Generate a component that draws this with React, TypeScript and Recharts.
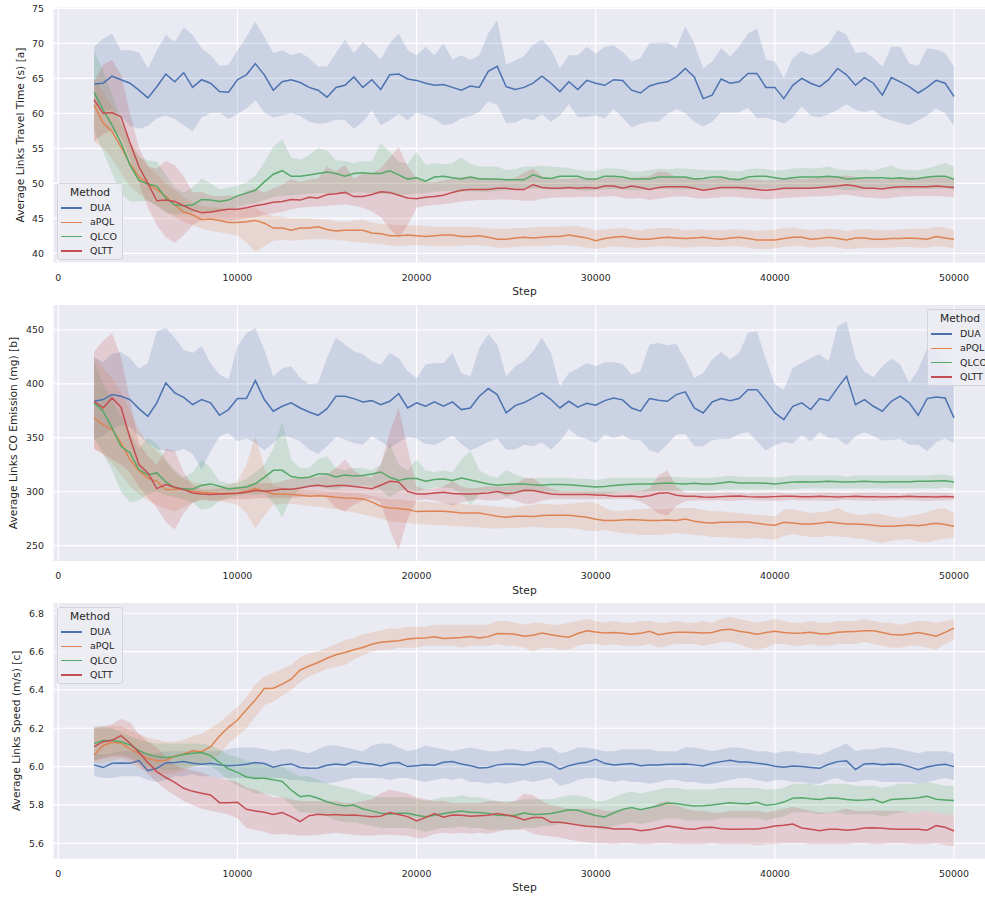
import React from 'react';
import { ComposedChart, Line, Area, XAxis, YAxis, CartesianGrid, Legend } from 'recharts';

const FONT = '"DejaVu Sans", Verdana, sans-serif';
const TEXT = '#262626';
const METHODS = ['DUA', 'aPQL', 'QLCO', 'QLTT'];
const COLORS: Record<string, string> = { DUA: '#4c72b0', aPQL: '#dd8452', QLCO: '#55a868', QLTT: '#c44e52' };
const X_TICKS = [0, 10000, 20000, 30000, 40000, 50000];
const X_DOMAIN = [-296, 52344];
// sampling grid of the training steps (2000 ... 50000, every 500)
const STEPS = Array.from({ length: 97 }, (_, i) => 2000 + 500 * i);

// ---------------- (a) Average Links Travel Time (s) ----------------
const TT_Y_TICKS = [40, 45, 50, 55, 60, 65, 70, 75];
const TT_DUA = [
  64.2, 64.3, 65.3, 64.8, 64.3, 63.3, 62.2, 63.8, 65.6, 64.5,
  65.8, 63.7, 64.8, 64.3, 63.1, 63.0, 64.8, 65.5, 67.1, 65.5,
  63.3, 64.5, 64.8, 64.4, 63.7, 63.3, 62.3, 63.7, 64.0, 65.2,
  63.7, 64.8, 63.4, 65.5, 65.6, 64.9, 64.7, 64.3, 64.0, 64.1,
  63.7, 63.3, 63.9, 63.7, 66.0, 66.7, 63.8, 63.4, 63.7, 64.3,
  65.3, 64.3, 63.1, 64.5, 63.4, 64.7, 64.3, 64.0, 64.8, 64.7,
  63.3, 62.9, 63.9, 64.3, 64.5, 65.2, 66.4, 65.2, 62.1, 62.6,
  64.9, 64.3, 64.5, 65.7, 65.7, 63.7, 63.7, 62.1, 64.0, 65.0,
  64.3, 63.8, 64.8, 66.4, 65.5, 64.0, 65.1, 64.3, 62.6, 65.1,
  64.5, 63.8, 62.9, 63.7, 64.7, 64.3, 62.4,
];
const TT_DUA_HI = [
  69.5, 70.7, 71.4, 69.0, 69.0, 68.7, 66.4, 69.0, 71.2, 70.2,
  72.3, 71.2, 69.3, 68.3, 66.8, 66.9, 69.0, 70.9, 73.1, 70.9,
  68.6, 69.0, 68.3, 68.7, 67.9, 66.7, 66.7, 68.6, 70.5, 68.6,
  70.2, 69.0, 67.7, 70.0, 71.4, 69.0, 68.3, 69.5, 68.3, 70.0,
  67.7, 68.3, 67.6, 68.3, 71.4, 73.3, 67.0, 67.5, 68.2, 69.8,
  70.5, 69.1, 66.4, 68.3, 68.3, 69.5, 68.5, 69.5, 69.7, 68.8,
  67.4, 67.9, 70.0, 70.1, 70.1, 69.3, 72.4, 70.0, 66.4, 67.4,
  69.3, 68.1, 69.5, 71.4, 72.1, 67.7, 67.4, 65.0, 67.9, 68.9,
  68.3, 68.9, 69.9, 71.9, 71.2, 68.6, 68.8, 67.9, 66.7, 69.5,
  69.5, 67.1, 66.8, 69.3, 69.1, 68.6, 66.7,
];
const TT_DUA_LO = [
  61.9, 60.5, 60.5, 59.6, 58.2, 57.8, 58.2, 59.3, 59.7, 59.2,
  58.3, 57.4, 59.4, 60.0, 60.1, 59.2, 59.9, 60.7, 61.9, 60.1,
  59.4, 59.7, 60.0, 59.6, 58.8, 58.5, 58.6, 59.1, 59.0, 57.8,
  58.8, 60.4, 58.3, 59.0, 59.9, 59.0, 60.1, 59.7, 59.2, 58.3,
  58.5, 59.3, 59.6, 60.2, 61.7, 61.2, 58.6, 58.7, 59.3, 59.0,
  59.9, 58.8, 59.7, 61.3, 59.4, 59.5, 59.7, 59.3, 60.6, 59.4,
  58.0, 58.5, 58.8, 58.8, 59.9, 60.6, 60.0, 58.8, 58.1, 58.8,
  60.1, 60.1, 60.1, 60.8, 59.3, 59.4, 59.0, 58.5, 59.4, 61.0,
  59.6, 59.4, 59.9, 60.5, 61.3, 60.5, 60.2, 60.5, 59.4, 59.0,
  58.6, 58.3, 59.0, 59.7, 60.7, 60.0, 58.2,
];
const TT_APQL = [
  61.2, 58.6, 57.4, 55.2, 52.8, 50.9, 50.0, 49.1, 48.1, 46.9,
  45.9, 45.5, 44.8, 44.9, 44.7, 44.4, 44.4, 44.5, 44.7, 44.3,
  43.6, 43.6, 43.3, 43.6, 43.6, 43.8, 43.4, 43.2, 43.3, 43.3,
  43.3, 42.9, 42.8, 42.5, 42.5, 42.6, 42.5, 42.4, 42.5, 42.6,
  42.6, 42.4, 42.4, 42.5, 42.3, 42.0, 42.0, 42.2, 42.3, 42.2,
  42.3, 42.4, 42.4, 42.6, 42.4, 42.2, 41.8, 42.1, 42.3, 42.4,
  42.2, 42.0, 42.0, 42.2, 42.3, 42.2, 42.1, 42.2, 42.3, 42.1,
  42.0, 42.2, 42.3, 42.1, 41.9, 41.9, 41.9, 42.1, 42.3, 42.3,
  42.0, 42.1, 42.3, 42.1, 41.9, 42.2, 42.2, 42.0, 42.0, 42.1,
  42.1, 42.2, 42.1, 42.0, 42.4, 42.2, 42.0,
];
const TT_APQL_HI = [
  65.0, 63.0, 61.0, 58.5, 56.0, 54.0, 52.5, 51.2, 50.0, 49.0,
  48.0, 47.3, 46.8, 46.6, 46.5, 46.4, 46.3, 46.4, 46.5, 45.8,
  45.3, 45.2, 45.0, 45.0, 45.0, 44.9, 44.8, 44.6, 44.5, 44.7,
  44.8, 44.4, 44.2, 44.1, 44.0, 44.0, 44.0, 43.9, 43.8, 43.8,
  43.8, 43.8, 43.8, 43.7, 43.6, 43.5, 43.5, 43.6, 43.6, 43.7,
  43.8, 43.8, 43.8, 43.9, 43.9, 43.6, 43.3, 43.4, 43.5, 43.6,
  43.4, 43.3, 43.5, 43.6, 43.6, 43.5, 43.3, 43.4, 43.4, 43.3,
  43.3, 43.4, 43.4, 43.3, 43.2, 43.3, 43.4, 43.6, 43.7, 43.5,
  43.3, 43.4, 43.5, 43.4, 43.2, 43.4, 43.5, 43.4, 43.3, 43.3,
  43.4, 43.5, 43.5, 43.5, 43.8, 43.7, 43.3,
];
const TT_APQL_LO = [
  56.0, 55.0, 53.5, 51.5, 49.5, 48.5, 47.5, 46.8, 46.0, 45.2,
  44.5, 44.0, 43.5, 43.2, 43.0, 42.8, 42.5, 41.5, 40.2, 41.0,
  41.8, 41.9, 41.8, 41.9, 42.0, 42.0, 42.0, 41.9, 41.8, 41.6,
  41.5, 41.4, 41.3, 41.1, 41.0, 41.1, 41.2, 41.1, 41.0, 41.0,
  41.0, 41.1, 41.2, 41.1, 41.0, 40.8, 40.8, 40.9, 41.0, 41.0,
  41.0, 41.1, 41.2, 41.1, 41.0, 40.8, 40.6, 40.8, 41.0, 40.9,
  40.8, 40.8, 40.9, 41.0, 41.0, 40.9, 40.8, 40.9, 41.0, 40.9,
  40.9, 41.0, 41.0, 40.8, 40.6, 40.6, 40.7, 40.9, 41.0, 41.0,
  40.8, 40.9, 41.0, 40.8, 40.6, 40.7, 40.8, 40.8, 40.8, 40.8,
  40.9, 40.9, 40.8, 40.8, 41.0, 40.9, 40.7,
];
const TT_QLCO = [
  63.0, 60.5, 58.3, 55.8, 52.6, 50.4, 49.9, 49.6, 47.9, 46.9,
  46.8, 46.9, 47.7, 47.6, 47.4, 47.6, 48.2, 48.6, 49.0, 50.2,
  51.3, 51.8, 51.0, 51.0, 51.2, 51.4, 51.6, 51.4, 51.0, 51.4,
  51.5, 51.4, 51.4, 51.8, 51.2, 50.6, 50.8, 50.3, 50.9, 51.0,
  50.8, 50.6, 50.9, 50.6, 50.6, 50.6, 50.5, 50.5, 50.5, 51.2,
  50.8, 50.7, 51.0, 51.0, 51.0, 50.6, 50.6, 51.0, 51.0, 50.9,
  50.6, 50.6, 50.6, 50.9, 50.9, 50.9, 50.9, 50.6, 50.7, 50.9,
  50.9, 50.6, 50.5, 50.9, 51.0, 51.0, 50.8, 50.6, 50.8, 50.9,
  50.9, 50.9, 51.0, 50.9, 50.6, 50.7, 50.8, 50.8, 50.8, 50.7,
  50.8, 50.6, 50.7, 50.9, 51.0, 51.0, 50.6,
];
const TT_QLCO_HI = [
  68.8, 66.2, 62.6, 59.0, 55.8, 53.7, 53.3, 53.1, 51.2, 49.4,
  48.7, 49.4, 50.7, 50.0, 49.1, 49.4, 49.7, 50.1, 51.1, 53.0,
  55.2, 56.3, 53.7, 53.4, 54.0, 55.0, 54.7, 53.3, 53.2, 52.9,
  53.2, 53.1, 55.7, 54.5, 53.1, 52.8, 54.5, 52.6, 52.9, 52.7,
  52.9, 53.7, 52.8, 52.4, 52.4, 52.4, 51.9, 52.0, 52.4, 52.4,
  52.5, 52.4, 52.3, 52.2, 51.9, 51.8, 51.8, 52.1, 52.1, 52.0,
  51.7, 51.7, 51.9, 52.1, 52.0, 52.1, 52.1, 52.0, 51.9, 51.8,
  51.9, 51.8, 51.7, 52.0, 52.1, 52.0, 51.8, 51.9, 52.1, 52.2,
  52.1, 52.2, 52.4, 52.0, 51.9, 51.9, 52.0, 51.8, 52.2, 52.5,
  52.0, 51.9, 51.9, 52.1, 52.5, 52.9, 52.4,
];
const TT_QLCO_LO = [
  57.5, 54.5, 51.5, 48.5, 47.4, 47.4, 47.5, 46.8, 45.8, 45.5,
  45.6, 45.8, 46.0, 45.8, 46.0, 46.2, 46.5, 47.0, 47.2, 47.6,
  48.0, 48.2, 48.3, 48.4, 48.5, 48.6, 48.6, 48.5, 48.5, 48.7,
  48.7, 48.6, 48.5, 48.4, 48.3, 48.4, 48.5, 48.6, 48.8, 48.9,
  48.9, 48.8, 48.9, 48.8, 48.8, 48.9, 49.0, 49.1, 49.2, 49.3,
  49.2, 49.1, 49.1, 49.2, 49.0, 48.9, 49.0, 49.1, 49.2, 49.1,
  49.0, 49.0, 49.1, 49.2, 49.2, 49.1, 49.1, 49.2, 49.0, 49.1,
  49.2, 49.2, 49.1, 49.0, 49.2, 49.3, 49.2, 49.1, 49.1, 49.2,
  49.2, 49.2, 49.3, 49.1, 49.0, 49.0, 49.1, 49.2, 49.2, 49.1,
  49.2, 49.1, 49.2, 49.2, 49.2, 49.3, 49.0,
];
const TT_QLTT = [
  61.9, 60.0, 60.1, 59.5, 55.8, 52.4, 50.0, 47.5, 47.6, 47.4,
  46.8, 46.2, 45.8, 45.9, 46.1, 46.3, 46.3, 46.5, 46.8, 47.0,
  47.3, 47.4, 47.7, 47.6, 48.0, 47.9, 48.4, 48.5, 48.7, 48.1,
  48.1, 48.4, 48.8, 48.7, 48.3, 47.9, 47.8, 48.0, 48.1, 48.3,
  48.7, 49.0, 49.1, 49.1, 49.1, 49.3, 49.3, 49.1, 49.1, 49.8,
  49.4, 49.3, 49.3, 49.4, 49.3, 49.4, 49.3, 49.6, 49.6, 49.3,
  49.6, 49.4, 49.1, 49.4, 49.5, 49.5, 49.5, 49.3, 49.0, 49.2,
  49.4, 49.4, 49.4, 49.3, 49.1, 49.0, 49.1, 49.3, 49.3, 49.3,
  49.3, 49.4, 49.5, 49.6, 49.8, 49.6, 49.3, 49.3, 49.2, 49.4,
  49.5, 49.5, 49.5, 49.5, 49.6, 49.5, 49.4,
];
const TT_QLTT_HI = [
  64.5, 66.9, 67.6, 65.5, 60.0, 55.2, 52.4, 52.1, 53.2, 52.6,
  51.0, 48.7, 48.8, 48.3, 48.1, 48.3, 48.1, 48.9, 49.3, 48.7,
  49.3, 49.8, 50.6, 50.2, 50.5, 50.7, 52.4, 51.7, 52.6, 50.6,
  51.4, 51.4, 52.1, 53.7, 55.2, 52.4, 50.7, 50.2, 50.2, 50.4,
  50.6, 50.9, 51.0, 50.8, 50.7, 50.6, 50.6, 50.8, 51.5, 52.1,
  51.0, 50.7, 50.6, 50.6, 50.8, 50.7, 50.6, 50.8, 50.9, 50.7,
  50.8, 50.9, 51.0, 51.7, 51.6, 50.9, 50.8, 50.7, 50.5, 50.6,
  50.8, 50.7, 50.7, 50.6, 50.5, 50.4, 50.5, 50.7, 50.7, 50.6,
  50.7, 50.8, 50.9, 51.0, 51.1, 50.9, 50.6, 50.6, 50.5, 50.7,
  50.8, 50.9, 50.8, 50.9, 50.9, 50.8, 50.7,
];
const TT_QLTT_LO = [
  56.0, 57.0, 57.5, 56.5, 53.5, 50.0, 46.5, 44.0, 42.3, 41.5,
  42.6, 44.0, 44.8, 44.9, 44.8, 44.7, 44.8, 45.0, 45.2, 45.5,
  45.7, 45.9, 46.3, 46.5, 46.6, 46.7, 46.8, 46.9, 47.0, 46.8,
  46.5, 46.0, 45.2, 43.5, 42.2, 44.0, 46.5, 46.8, 46.9, 47.0,
  47.2, 47.4, 47.5, 47.6, 47.6, 47.7, 47.7, 47.6, 47.5, 47.5,
  47.8, 47.9, 48.0, 48.0, 48.0, 48.1, 48.0, 48.1, 48.2, 47.9,
  47.8, 47.9, 47.6, 47.8, 48.0, 48.1, 48.1, 47.9, 47.8, 47.9,
  48.0, 48.1, 48.0, 47.9, 47.8, 47.7, 47.8, 47.9, 48.0, 48.0,
  48.1, 48.1, 48.2, 48.3, 48.4, 48.2, 48.0, 47.9, 47.8, 47.9,
  48.1, 48.1, 48.2, 48.2, 48.2, 48.1, 48.0,
];

// ---------------- (b) Average Links CO Emission (mg) ----------------
const CO_Y_TICKS = [250, 300, 350, 400, 450];
const CO_DUA = [
  383.9, 385.5, 390.1, 388.6, 385.5, 377.1, 370.0, 382.4, 400.9, 391.7,
  387.6, 380.8, 385.5, 382.4, 370.9, 376.2, 386.4, 386.4, 403.1, 385.5,
  374.7, 379.3, 382.4, 377.7, 374.0, 370.9, 377.1, 388.6, 388.6, 386.4,
  383.3, 384.5, 380.8, 383.9, 391.0, 377.7, 382.4, 379.3, 383.3, 379.3,
  383.3, 376.2, 377.7, 388.6, 395.7, 390.1, 373.1, 379.9, 382.7, 387.0,
  391.7, 385.5, 377.7, 383.9, 378.4, 382.1, 380.2, 384.5, 387.0, 385.2,
  377.7, 374.7, 386.4, 384.9, 383.9, 390.1, 392.6, 377.7, 373.1, 383.3,
  386.4, 384.5, 386.4, 394.7, 394.7, 384.5, 373.1, 366.9, 379.3, 382.4,
  376.2, 386.4, 384.5, 396.3, 407.1, 380.8, 385.5, 379.3, 374.7, 383.9,
  388.6, 382.4, 370.9, 386.4, 387.9, 387.0, 368.5,
];
const CO_DUA_HI = [
  425.0, 420.0, 428.0, 429.7, 424.1, 414.2, 419.5, 448.8, 451.9, 442.7,
  431.8, 428.7, 434.9, 419.5, 408.7, 404.0, 434.9, 447.3, 451.9, 431.8,
  407.1, 414.2, 416.4, 405.6, 400.0, 400.9, 424.1, 442.7, 436.5, 430.3,
  427.8, 421.0, 417.9, 428.7, 424.1, 411.7, 405.6, 417.9, 419.5, 419.5,
  428.7, 410.2, 407.1, 433.4, 446.4, 436.5, 407.1, 416.4, 421.0, 430.3,
  442.7, 428.7, 397.8, 410.2, 414.2, 419.5, 416.7, 420.1, 420.1, 418.5,
  408.7, 411.7, 436.5, 438.0, 435.9, 437.1, 422.6, 405.6, 410.2, 422.6,
  429.7, 422.6, 428.7, 447.3, 448.8, 422.6, 399.4, 394.7, 414.8, 419.5,
  424.1, 427.8, 421.0, 453.5, 458.1, 424.1, 411.4, 406.5, 416.4, 423.5,
  417.9, 400.9, 413.3, 433.4, 434.0, 419.5, 400.9,
];
const CO_DUA_LO = [
  348.0, 352.0, 358.0, 362.0, 360.0, 352.0, 345.0, 340.0, 338.0, 337.0,
  340.0, 335.0, 320.6, 337.6, 351.5, 354.6, 346.8, 349.3, 345.3, 338.2,
  345.3, 352.4, 349.9, 346.8, 339.1, 335.1, 342.2, 350.5, 348.4, 345.3,
  343.7, 351.5, 346.8, 340.6, 346.2, 350.5, 349.3, 344.4, 343.7, 347.5,
  352.4, 344.4, 338.2, 341.9, 346.2, 349.3, 339.1, 339.1, 343.7, 342.2,
  345.9, 339.1, 346.8, 358.3, 351.5, 349.0, 345.0, 353.0, 349.9, 352.7,
  348.1, 347.8, 338.5, 336.0, 344.4, 353.0, 353.6, 342.2, 342.2, 347.8,
  349.0, 349.0, 353.6, 355.5, 346.8, 338.2, 343.1, 346.2, 344.7, 352.4,
  346.8, 355.5, 349.9, 349.3, 343.1, 351.5, 355.2, 351.8, 347.5, 348.1,
  349.0, 343.7, 343.7, 337.6, 345.9, 349.3, 345.3,
];
const CO_APQL = [
  368.5, 362.3, 357.7, 345.3, 329.8, 319.6, 312.8, 309.7, 302.0, 302.0,
  302.6, 300.5, 299.5, 298.9, 298.3, 298.0, 298.6, 300.5, 302.9, 300.5,
  298.0, 298.0, 297.4, 296.8, 295.8, 296.4, 295.8, 294.9, 294.3, 294.0,
  293.4, 290.6, 286.6, 285.0, 284.4, 283.5, 281.6, 281.9, 281.9, 281.9,
  281.3, 280.4, 280.4, 280.4, 278.8, 277.3, 276.4, 277.3, 277.3, 277.0,
  277.9, 278.2, 278.2, 278.2, 277.3, 276.4, 274.5, 273.3, 273.3, 273.9,
  274.2, 273.9, 273.3, 273.3, 273.9, 273.3, 274.8, 272.6, 271.4, 271.1,
  271.7, 271.7, 272.0, 272.0, 270.8, 269.6, 268.9, 271.7, 271.1, 270.2,
  270.2, 270.8, 272.0, 271.1, 270.2, 270.2, 269.6, 268.9, 268.0, 268.0,
  268.6, 269.2, 268.6, 269.6, 270.8, 269.6, 268.0,
];
const CO_APQL_HI = [
  425, 415, 405, 392, 375, 358, 345, 338, 328, 318,
  312, 309, 307, 306, 305, 306, 310, 325, 352, 322,
  306, 304, 302, 302, 301, 301, 300, 300, 299, 299,
  298, 296, 294, 293, 293, 292, 291, 291, 290, 290,
  289, 289, 288, 288, 287, 286, 285.5, 285.0, 287.0, 288.0,
  289.0, 288.5, 288.0, 289.0, 289.7, 290.5, 290.0, 285.0, 282.0, 282.5,
  283.0, 284.0, 284.5, 283.5, 284.0, 285.0, 285.0, 285.0, 283.0, 282.0,
  282.0, 281.0, 280.4, 279.5, 278.8, 278.0, 277.3, 283.0, 284.0, 282.0,
  280.4, 281.0, 282.0, 285.0, 281.0, 279.0, 278.8, 280.0, 279.0, 277.0,
  275.7, 277.5, 279.0, 281.0, 284.0, 284.5, 280.4,
];
const CO_APQL_LO = [
  340, 335, 326, 316, 305, 298, 292, 288, 284, 282,
  286, 290, 292, 292, 291, 290, 288, 280, 266, 278,
  288, 289, 289, 288, 287, 286, 285, 284, 282, 281,
  279, 277, 275, 273, 272, 271, 270, 270, 269, 269,
  268, 268, 267, 267, 266, 266, 266.5, 266.5, 266.8, 267.5,
  266.8, 266.5, 266.5, 266.5, 265.5, 264.0, 263.4, 264.5, 263.0, 261.5,
  261.0, 260.0, 260.0, 260.0, 260.5, 261.5, 261.0, 260.0, 259.5, 258.0,
  258.0, 257.5, 257.0, 256.5, 257.5, 256.5, 255.6, 259.0, 260.5, 259.5,
  258.0, 258.0, 259.0, 258.5, 258.0, 257.0, 256.0, 254.0, 252.5, 254.5,
  255.6, 256.0, 254.0, 253.0, 255.0, 256.5, 257.5,
];
const CO_QLCO = [
  382.4, 374.7, 359.2, 342.2, 336.0, 320.6, 315.9, 317.5, 309.1, 303.6,
  302.9, 302.3, 306.0, 307.3, 305.1, 302.6, 303.6, 304.5, 307.6, 313.4,
  319.9, 319.9, 314.1, 312.8, 313.4, 316.5, 316.5, 313.8, 315.6, 314.7,
  315.0, 316.5, 318.4, 313.4, 310.4, 312.2, 312.2, 309.7, 311.3, 311.9,
  310.4, 312.8, 310.9, 309.1, 307.3, 306.0, 306.7, 307.3, 307.3, 306.4,
  306.0, 306.7, 306.7, 306.4, 305.8, 305.1, 304.5, 304.8, 305.8, 306.5,
  306.9, 307.3, 307.3, 307.6, 308.2, 307.6, 307.3, 307.8, 307.3, 307.3,
  308.2, 309.2, 308.2, 308.2, 308.2, 307.8, 307.3, 308.2, 309.1, 309.4,
  309.1, 309.4, 309.7, 309.4, 309.1, 309.4, 309.7, 309.4, 309.1, 309.4,
  309.4, 309.4, 309.7, 309.7, 310.0, 310.3, 309.1,
];
const CO_QLCO_HI = [
  420, 400, 385, 370, 355, 340, 350, 345, 330, 320,
  313, 318, 330, 322, 310, 308, 308, 312, 318, 325,
  340, 365, 330, 322, 322, 330, 333, 322, 320, 322,
  322, 320, 325, 345, 325, 320, 330, 320, 318, 320,
  318, 330, 338, 320, 315, 313, 320, 316, 313, 312,
  313, 313, 313, 313, 312, 312, 311, 312, 313, 313,
  313, 313, 313, 313, 314, 314, 313, 313, 313, 313,
  314, 315, 314, 314, 314, 314, 313, 314, 315, 315,
  315, 315, 315, 315, 314, 315, 315, 315, 315, 315,
  315, 315, 315, 315, 316, 316, 314,
];
const CO_QLCO_LO = [
  350, 335, 320, 300, 290, 292, 298, 300, 297, 295,
  293, 290, 283, 285, 292, 295, 296, 298, 297, 298,
  290, 276, 295, 302, 305, 305, 303, 302, 305, 305,
  306, 305, 302, 295, 300, 303, 300, 302, 304, 304,
  303, 298, 288, 298, 300, 300, 295, 298, 300, 300,
  299, 299, 299, 299, 299, 298, 298, 298, 299, 300,
  300, 300, 300, 301, 301, 301, 301, 301, 301, 301,
  302, 302, 302, 302, 302, 302, 302, 302, 302, 303,
  303, 303, 303, 303, 303, 303, 303, 303, 303, 303,
  303, 303, 303, 303, 303, 304, 303,
];
const CO_QLTT = [
  383.9, 377.7, 387.0, 378.4, 349.9, 325.2, 317.5, 302.9, 306.6, 304.2,
  302.0, 298.9, 298.0, 297.4, 298.0, 298.3, 298.6, 299.5, 301.1, 300.5,
  301.1, 302.6, 302.3, 303.6, 305.1, 306.0, 304.8, 305.7, 305.7, 304.8,
  303.9, 302.9, 306.0, 309.7, 309.1, 300.5, 298.0, 298.0, 298.9, 299.5,
  298.3, 298.0, 298.0, 298.3, 298.9, 300.2, 298.3, 299.2, 301.4, 301.1,
  299.5, 298.0, 297.4, 297.4, 297.4, 297.4, 297.1, 296.8, 295.8, 295.8,
  296.1, 295.2, 296.4, 298.6, 299.2, 296.8, 295.8, 295.8, 295.2, 294.9,
  295.5, 295.8, 296.1, 295.5, 295.2, 295.2, 295.5, 295.8, 295.8, 295.5,
  295.5, 295.8, 295.5, 295.2, 295.5, 295.8, 295.5, 295.5, 295.2, 295.5,
  295.5, 295.8, 295.5, 295.5, 295.2, 295.5, 295.2,
];
const CO_QLTT_HI = [
  430, 440, 447, 425, 385, 345, 333, 325, 340, 338,
  318, 306, 302, 302, 303, 304, 304, 306, 308, 308,
  308, 310, 312, 313, 313, 314, 316, 322, 330, 320,
  315, 313, 325, 355, 378, 340, 305, 302, 303, 305,
  310, 305, 303, 304, 305, 305, 305, 307, 312, 313,
  306, 303, 301, 300.5, 300.5, 300.5, 300.5, 300.5, 300.5, 300.5,
  300.5, 301, 303, 315, 320, 305, 299, 299, 299, 299,
  299, 299.5, 299, 298.5, 299, 299, 299.5, 299, 298.5, 299,
  299, 299, 299.5, 299, 298.5, 299, 299, 299.5, 299, 299,
  298.5, 299, 299, 299.5, 299, 299, 298.5,
];
const CO_QLTT_LO = [
  340, 335, 330, 325, 318, 305, 295, 285, 272, 265,
  280, 290, 293, 292, 292, 293, 293, 293, 294, 294,
  294, 294, 294, 295, 296, 297, 294, 285, 282, 288,
  292, 294, 290, 265, 246, 275, 292, 293, 292, 290,
  287, 290, 292, 293, 292, 292, 294, 292, 289, 289,
  292, 293, 293.5, 293, 293, 293, 293, 293, 293, 293,
  293, 291, 286, 280, 278, 287, 291.5, 292, 292, 292,
  292, 291.5, 292, 292.5, 292, 292, 291.5, 292, 292.5, 292,
  292, 292, 291.5, 292, 292.5, 292, 292, 291.5, 292, 292,
  292.5, 292, 292, 291.5, 292, 292, 292.5,
];

// ---------------- (c) Average Links Speed (m/s) ----------------
const SP_Y_TICKS = [5.6, 5.8, 6.0, 6.2, 6.4, 6.6, 6.8];
const SP_DUA = [
  6.009, 5.995, 6.017, 6.019, 6.017, 6.031, 5.979, 5.991, 6.019, 6.021,
  6.026, 6.017, 6.012, 6.017, 6.009, 6.005, 6.007, 6.012, 6.021, 6.016,
  5.997, 6.009, 6.014, 5.995, 5.991, 5.993, 6.007, 6.014, 6.009, 6.026,
  6.017, 6.014, 6.003, 6.017, 6.021, 6.000, 6.005, 6.010, 6.007, 6.023,
  6.026, 6.014, 6.005, 5.993, 5.995, 6.009, 6.014, 6.012, 6.009, 6.021,
  6.026, 6.014, 5.986, 6.005, 6.016, 6.023, 6.038, 6.017, 6.009, 6.012,
  6.016, 6.005, 6.009, 6.009, 6.012, 6.012, 6.014, 6.009, 6.003, 6.017,
  6.026, 6.033, 6.024, 6.024, 6.017, 6.012, 6.002, 5.997, 6.003, 6.000,
  5.995, 5.991, 6.012, 6.026, 6.030, 5.985, 6.014, 6.016, 6.010, 6.014,
  6.012, 6.000, 5.984, 5.998, 6.007, 6.012, 6.000,
];
const SP_DUA_HI = [
  6.07, 6.06, 6.07, 6.08, 6.08, 6.09, 6.06, 6.07, 6.08, 6.08,
  6.08, 6.08, 6.08, 6.08, 6.08, 6.09, 6.10, 6.10, 6.10, 6.09,
  6.08, 6.09, 6.09, 6.08, 6.07, 6.09, 6.11, 6.11, 6.10, 6.09,
  6.08, 6.11, 6.12, 6.12, 6.10, 6.08, 6.09, 6.11, 6.10, 6.09,
  6.08, 6.09, 6.10, 6.09, 6.08, 6.08, 6.09, 6.09, 6.08, 6.08,
  6.10, 6.10, 6.07, 6.08, 6.10, 6.10, 6.09, 6.08, 6.08, 6.09,
  6.09, 6.09, 6.09, 6.08, 6.08, 6.08, 6.10, 6.10, 6.09, 6.08,
  6.09, 6.10, 6.10, 6.09, 6.08, 6.08, 6.07, 6.08, 6.08, 6.07,
  6.07, 6.06, 6.08, 6.10, 6.12, 6.08, 6.09, 6.09, 6.10, 6.10,
  6.09, 6.08, 6.07, 6.08, 6.08, 6.08, 6.07,
];
const SP_DUA_LO = [
  5.95, 5.94, 5.94, 5.95, 5.95, 5.95, 5.93, 5.92, 5.93, 5.95,
  5.95, 5.96, 5.95, 5.95, 5.94, 5.94, 5.94, 5.94, 5.93, 5.94,
  5.94, 5.94, 5.93, 5.93, 5.92, 5.92, 5.91, 5.92, 5.93, 5.94,
  5.94, 5.94, 5.94, 5.93, 5.94, 5.94, 5.93, 5.92, 5.93, 5.94,
  5.93, 5.94, 5.92, 5.92, 5.91, 5.92, 5.91, 5.92, 5.93, 5.92,
  5.93, 5.94, 5.90, 5.91, 5.93, 5.94, 5.94, 5.93, 5.92, 5.93,
  5.92, 5.92, 5.91, 5.92, 5.93, 5.93, 5.92, 5.92, 5.91, 5.91,
  5.92, 5.93, 5.94, 5.94, 5.93, 5.92, 5.93, 5.93, 5.92, 5.92,
  5.91, 5.91, 5.93, 5.94, 5.92, 5.92, 5.93, 5.93, 5.92, 5.92,
  5.92, 5.92, 5.91, 5.92, 5.93, 5.94, 5.93,
];
const SP_APQL = [
  6.060, 6.110, 6.127, 6.122, 6.092, 6.068, 6.043, 6.031, 6.033, 6.054,
  6.066, 6.083, 6.078, 6.104, 6.160, 6.205, 6.243, 6.296, 6.348, 6.407,
  6.409, 6.430, 6.456, 6.504, 6.525, 6.543, 6.565, 6.583, 6.595, 6.609,
  6.621, 6.638, 6.649, 6.652, 6.656, 6.666, 6.670, 6.671, 6.677, 6.668,
  6.671, 6.673, 6.678, 6.671, 6.678, 6.694, 6.693, 6.690, 6.680, 6.685,
  6.697, 6.688, 6.680, 6.675, 6.694, 6.708, 6.702, 6.697, 6.699, 6.695,
  6.690, 6.695, 6.706, 6.688, 6.696, 6.701, 6.701, 6.700, 6.697, 6.700,
  6.712, 6.716, 6.706, 6.700, 6.690, 6.699, 6.706, 6.700, 6.696, 6.697,
  6.701, 6.693, 6.693, 6.701, 6.703, 6.705, 6.708, 6.708, 6.700, 6.689,
  6.687, 6.692, 6.700, 6.690, 6.680, 6.700, 6.722,
];
const SP_APQL_HI = [
  6.20, 6.20, 6.21, 6.21, 6.19, 6.17, 6.15, 6.14, 6.13, 6.13,
  6.14, 6.16, 6.17, 6.20, 6.23, 6.27, 6.31, 6.36, 6.43, 6.47,
  6.49, 6.51, 6.53, 6.57, 6.59, 6.60, 6.62, 6.64, 6.66, 6.67,
  6.69, 6.70, 6.71, 6.72, 6.72, 6.73, 6.73, 6.73, 6.74, 6.74,
  6.74, 6.74, 6.74, 6.74, 6.74, 6.76, 6.76, 6.75, 6.74, 6.75,
  6.75, 6.74, 6.74, 6.75, 6.76, 6.77, 6.76, 6.75, 6.76, 6.75,
  6.75, 6.76, 6.76, 6.75, 6.75, 6.76, 6.75, 6.75, 6.76, 6.75,
  6.77, 6.78, 6.77, 6.76, 6.75, 6.76, 6.77, 6.76, 6.75, 6.75,
  6.76, 6.75, 6.75, 6.76, 6.76, 6.76, 6.77, 6.76, 6.75, 6.75,
  6.74, 6.75, 6.76, 6.76, 6.75, 6.76, 6.77,
];
const SP_APQL_LO = [
  6.02, 6.02, 6.03, 6.04, 6.02, 5.99, 5.98, 5.96, 5.96, 5.96,
  5.98, 6.00, 6.01, 6.03, 6.06, 6.12, 6.16, 6.20, 6.26, 6.32,
  6.34, 6.37, 6.40, 6.44, 6.47, 6.49, 6.51, 6.52, 6.53, 6.56,
  6.58, 6.60, 6.61, 6.61, 6.62, 6.62, 6.62, 6.63, 6.63, 6.63,
  6.63, 6.62, 6.63, 6.63, 6.63, 6.64, 6.63, 6.63, 6.62, 6.60,
  6.62, 6.62, 6.61, 6.61, 6.63, 6.64, 6.64, 6.63, 6.64, 6.63,
  6.63, 6.63, 6.64, 6.62, 6.63, 6.64, 6.64, 6.64, 6.63, 6.64,
  6.65, 6.65, 6.64, 6.62, 6.61, 6.62, 6.64, 6.64, 6.63, 6.63,
  6.64, 6.63, 6.63, 6.64, 6.64, 6.64, 6.65, 6.64, 6.63, 6.62,
  6.62, 6.63, 6.63, 6.62, 6.61, 6.64, 6.66,
];
const SP_QLCO = [
  6.120, 6.136, 6.136, 6.130, 6.113, 6.083, 6.064, 6.052, 6.047, 6.052,
  6.063, 6.070, 6.073, 6.057, 6.021, 5.988, 5.970, 5.946, 5.939, 5.939,
  5.932, 5.922, 5.878, 5.843, 5.849, 5.835, 5.817, 5.803, 5.795, 5.800,
  5.779, 5.769, 5.757, 5.753, 5.757, 5.757, 5.746, 5.739, 5.746, 5.755,
  5.762, 5.769, 5.762, 5.760, 5.755, 5.746, 5.745, 5.746, 5.758, 5.750,
  5.752, 5.755, 5.765, 5.775, 5.772, 5.758, 5.745, 5.737, 5.758, 5.777,
  5.786, 5.775, 5.785, 5.796, 5.810, 5.807, 5.800, 5.795, 5.796, 5.800,
  5.806, 5.811, 5.808, 5.806, 5.814, 5.798, 5.803, 5.815, 5.835, 5.838,
  5.832, 5.829, 5.836, 5.835, 5.829, 5.824, 5.826, 5.830, 5.812, 5.828,
  5.831, 5.833, 5.838, 5.845, 5.830, 5.826, 5.823,
];
const SP_QLCO_HI = [
  6.20, 6.21, 6.20, 6.18, 6.16, 6.14, 6.13, 6.12, 6.12, 6.12,
  6.12, 6.12, 6.12, 6.11, 6.09, 6.06, 6.05, 6.03, 6.02, 6.01,
  6.00, 6.00, 5.97, 5.95, 5.95, 5.93, 5.91, 5.90, 5.89, 5.88,
  5.86, 5.85, 5.84, 5.84, 5.84, 5.84, 5.83, 5.82, 5.83, 5.84,
  5.84, 5.85, 5.84, 5.84, 5.83, 5.82, 5.82, 5.82, 5.83, 5.83,
  5.83, 5.83, 5.84, 5.85, 5.85, 5.84, 5.82, 5.82, 5.84, 5.86,
  5.87, 5.86, 5.87, 5.88, 5.89, 5.89, 5.88, 5.88, 5.88, 5.88,
  5.89, 5.89, 5.89, 5.89, 5.89, 5.88, 5.88, 5.89, 5.91, 5.91,
  5.91, 5.90, 5.91, 5.91, 5.91, 5.90, 5.90, 5.90, 5.89, 5.90,
  5.91, 5.91, 5.91, 5.92, 5.91, 5.90, 5.90,
];
const SP_QLCO_LO = [
  6.03, 6.05, 6.06, 6.06, 6.05, 6.03, 6.00, 5.99, 5.98, 5.98,
  5.99, 6.00, 6.01, 6.00, 5.97, 5.93, 5.90, 5.88, 5.86, 5.86,
  5.85, 5.84, 5.80, 5.76, 5.76, 5.75, 5.74, 5.72, 5.71, 5.71,
  5.70, 5.69, 5.68, 5.68, 5.68, 5.68, 5.67, 5.66, 5.67, 5.68,
  5.68, 5.69, 5.68, 5.68, 5.67, 5.67, 5.67, 5.67, 5.68, 5.68,
  5.69, 5.69, 5.70, 5.71, 5.70, 5.69, 5.68, 5.67, 5.69, 5.70,
  5.71, 5.70, 5.71, 5.72, 5.73, 5.73, 5.72, 5.72, 5.72, 5.72,
  5.73, 5.73, 5.73, 5.73, 5.73, 5.72, 5.73, 5.74, 5.76, 5.76,
  5.76, 5.75, 5.76, 5.76, 5.75, 5.75, 5.75, 5.75, 5.74, 5.75,
  5.76, 5.76, 5.76, 5.77, 5.76, 5.75, 5.75,
];
const SP_QLTT = [
  6.104, 6.130, 6.137, 6.162, 6.122, 6.075, 6.021, 5.974, 5.943, 5.918,
  5.887, 5.871, 5.861, 5.852, 5.812, 5.812, 5.814, 5.777, 5.769, 5.762,
  5.750, 5.760, 5.739, 5.713, 5.744, 5.751, 5.748, 5.750, 5.746, 5.748,
  5.743, 5.739, 5.741, 5.760, 5.750, 5.739, 5.717, 5.734, 5.755, 5.736,
  5.748, 5.746, 5.741, 5.744, 5.746, 5.755, 5.748, 5.738, 5.722, 5.735,
  5.735, 5.710, 5.710, 5.703, 5.695, 5.689, 5.686, 5.682, 5.675, 5.675,
  5.675, 5.666, 5.670, 5.680, 5.690, 5.684, 5.676, 5.673, 5.682, 5.684,
  5.676, 5.673, 5.673, 5.675, 5.675, 5.681, 5.690, 5.694, 5.700, 5.680,
  5.673, 5.666, 5.673, 5.673, 5.668, 5.672, 5.680, 5.681, 5.678, 5.675,
  5.673, 5.673, 5.673, 5.668, 5.692, 5.684, 5.664,
];
const SP_QLTT_HI = [
  6.21, 6.21, 6.22, 6.25, 6.23, 6.17, 6.13, 6.10, 6.05, 6.01,
  5.99, 5.98, 5.97, 5.95, 5.94, 5.93, 5.92, 5.89, 5.88, 5.86,
  5.84, 5.84, 5.83, 5.82, 5.82, 5.82, 5.82, 5.82, 5.81, 5.81,
  5.82, 5.83, 5.86, 5.88, 5.87, 5.86, 5.84, 5.83, 5.82, 5.82,
  5.81, 5.81, 5.81, 5.81, 5.82, 5.82, 5.81, 5.82, 5.86, 5.85,
  5.82, 5.80, 5.79, 5.78, 5.78, 5.78, 5.78, 5.77, 5.77, 5.78,
  5.78, 5.77, 5.78, 5.81, 5.82, 5.80, 5.78, 5.77, 5.77, 5.76,
  5.76, 5.77, 5.77, 5.77, 5.77, 5.76, 5.77, 5.78, 5.79, 5.78,
  5.77, 5.76, 5.76, 5.77, 5.78, 5.77, 5.77, 5.77, 5.77, 5.77,
  5.77, 5.76, 5.76, 5.77, 5.76, 5.75, 5.75,
];
const SP_QLTT_LO = [
  6.03, 6.04, 6.05, 6.05, 6.04, 6.01, 5.96, 5.92, 5.88, 5.85,
  5.82, 5.80, 5.78, 5.77, 5.76, 5.75, 5.73, 5.68, 5.67, 5.66,
  5.645, 5.65, 5.645, 5.64, 5.64, 5.645, 5.65, 5.655, 5.65, 5.645,
  5.64, 5.64, 5.645, 5.645, 5.64, 5.64, 5.625, 5.63, 5.65, 5.655,
  5.65, 5.655, 5.65, 5.655, 5.65, 5.66, 5.67, 5.67, 5.67, 5.65,
  5.64, 5.635, 5.63, 5.62, 5.61, 5.605, 5.60, 5.60, 5.595, 5.60,
  5.60, 5.595, 5.595, 5.60, 5.60, 5.595, 5.595, 5.595, 5.595, 5.60,
  5.595, 5.595, 5.595, 5.595, 5.59, 5.595, 5.595, 5.60, 5.60, 5.60,
  5.595, 5.595, 5.595, 5.595, 5.595, 5.60, 5.60, 5.595, 5.595, 5.60,
  5.60, 5.595, 5.595, 5.595, 5.60, 5.59, 5.585,
];

type Series = { mean: number[]; lo: number[]; hi: number[] };

function buildRows(series: Series[]) {
  return STEPS.map((x, i) => {
    const r: Record<string, any> = { x };
    series.forEach((s, k) => {
      r['m' + k] = s.mean[i];
      r['b' + k] = [s.lo[i], s.hi[i]];
    });
    return r;
  });
}

const TT_ROWS = buildRows([
  { mean: TT_DUA, lo: TT_DUA_LO, hi: TT_DUA_HI },
  { mean: TT_APQL, lo: TT_APQL_LO, hi: TT_APQL_HI },
  { mean: TT_QLCO, lo: TT_QLCO_LO, hi: TT_QLCO_HI },
  { mean: TT_QLTT, lo: TT_QLTT_LO, hi: TT_QLTT_HI },
]);
const CO_ROWS = buildRows([
  { mean: CO_DUA, lo: CO_DUA_LO, hi: CO_DUA_HI },
  { mean: CO_APQL, lo: CO_APQL_LO, hi: CO_APQL_HI },
  { mean: CO_QLCO, lo: CO_QLCO_LO, hi: CO_QLCO_HI },
  { mean: CO_QLTT, lo: CO_QLTT_LO, hi: CO_QLTT_HI },
]);
const SP_ROWS = buildRows([
  { mean: SP_DUA, lo: SP_DUA_LO, hi: SP_DUA_HI },
  { mean: SP_APQL, lo: SP_APQL_LO, hi: SP_APQL_HI },
  { mean: SP_QLCO, lo: SP_QLCO_LO, hi: SP_QLCO_HI },
  { mean: SP_QLTT, lo: SP_QLTT_LO, hi: SP_QLTT_HI },
]);

function LegendBox() {
  return (
    <div
      style={{
        position: 'relative',
        width: 66,
        height: 77,
        boxSizing: 'border-box',
        border: '1px solid #d3d3db',
        borderRadius: 3,
        background: 'rgba(236,236,243,0.85)',
        fontFamily: FONT,
        color: TEXT,
      }}
    >
      <div style={{ position: 'absolute', left: 0, width: 64, top: 2.5, textAlign: 'center', fontSize: 10.7, lineHeight: '12px' }}>
        Method
      </div>
      {METHODS.map((m, i) => (
        <React.Fragment key={m}>
          <div style={{ position: 'absolute', left: 3, top: 23.2 + i * 14.3, width: 21, height: 1.6, background: COLORS[m] }} />
          <div style={{ position: 'absolute', left: 32, top: 18 + i * 14.3, fontSize: 9.5, lineHeight: '12px', whiteSpace: 'nowrap' }}>
            {m}
          </div>
        </React.Fragment>
      ))}
    </div>
  );
}

type PanelProps = {
  top: number;
  height: number;
  mTop: number;
  mBottom: number;
  yDomain: number[];
  yTicks: number[];
  yFmt: (v: number) => string;
  yLabel: string;
  yLabelOffset: number;
  data: any[];
  legendLeft: number;
  legendTop: number;
};

function Panel(p: PanelProps) {
  const tickStyle = { fontSize: 9.4, fill: TEXT, fontFamily: FONT };
  const series = METHODS.flatMap((m, k) => [
    <Area
      key={'band' + m}
      dataKey={'b' + k}
      type="linear"
      stroke="none"
      strokeWidth={0}
      fill={COLORS[m]}
      fillOpacity={0.2}
      dot={false}
      activeDot={false}
      isAnimationActive={false}
      legendType="none"
    />,
    <Line
      key={'line' + m}
      dataKey={'m' + k}
      name={m}
      type="linear"
      stroke={COLORS[m]}
      strokeWidth={1.5}
      dot={false}
      activeDot={false}
      isAnimationActive={false}
    />,
  ]);
  return (
    <div style={{ position: 'absolute', left: 0, top: p.top, width: 1001, height: p.height }}>
      <ComposedChart width={1001} height={p.height} data={p.data} margin={{ top: p.mTop, right: 5, bottom: p.mBottom, left: 0 }}>
        <CartesianGrid fill="#eaeaf2" stroke="#ffffff" strokeWidth={1.2} />
        <XAxis
          dataKey="x"
          type="number"
          domain={X_DOMAIN}
          ticks={X_TICKS}
          interval={0}
          allowDataOverflow
          axisLine={false}
          tickLine={false}
          tickSize={0}
          tickMargin={11}
          height={32}
          tick={tickStyle}
          label={{ value: 'Step', position: 'insideBottom', offset: 0, style: { fontSize: 10.7, fill: TEXT, fontFamily: FONT } }}
        />
        <YAxis
          type="number"
          domain={p.yDomain}
          ticks={p.yTicks}
          interval={0}
          allowDataOverflow
          axisLine={false}
          tickLine={false}
          tickSize={0}
          tickMargin={9}
          width={53}
          tick={tickStyle}
          tickFormatter={p.yFmt}
          label={{
            value: p.yLabel,
            angle: -90,
            position: 'insideLeft',
            offset: p.yLabelOffset,
            style: { textAnchor: 'middle', fontSize: 10.7, fill: TEXT, fontFamily: FONT },
          }}
        />
        {series}
        <Legend
          layout="horizontal"
          verticalAlign="middle"
          align="center"
          content={() => <LegendBox />}
          wrapperStyle={{ left: p.legendLeft, top: p.legendTop, width: 66, height: 77 }}
        />
      </ComposedChart>
    </div>
  );
}

export default function App() {
  return (
    <div style={{ position: 'absolute', left: 0, top: 0, width: 985, height: 897, overflow: 'hidden', background: '#ffffff' }}>
      <Panel
        top={0}
        height={300}
        mTop={7}
        mBottom={5}
        yDomain={[38.614, 75.186]}
        yTicks={TT_Y_TICKS}
        yFmt={(v) => String(v)}
        yLabel="Average Links Travel Time (s) [a]"
        yLabelOffset={20}
        data={TT_ROWS}
        legendLeft={57}
        legendTop={183}
      />
      <Panel
        top={300}
        height={300}
        mTop={4.3}
        mBottom={6.3}
        yDomain={[235.16, 473.83]}
        yTicks={CO_Y_TICKS}
        yFmt={(v) => String(v)}
        yLabel="Average Links CO Emission (mg) [b]"
        yLabelOffset={13}
        data={CO_ROWS}
        legendLeft={927}
        legendTop={9}
      />
      <Panel
        top={600}
        height={297}
        mTop={2.3}
        mBottom={5.7}
        yDomain={[5.5165, 6.857]}
        yTicks={SP_Y_TICKS}
        yFmt={(v) => v.toFixed(1)}
        yLabel="Average Links Speed (m/s) [c]"
        yLabelOffset={16}
        data={SP_ROWS}
        legendLeft={57}
        legendTop={7}
      />
    </div>
  );
}
